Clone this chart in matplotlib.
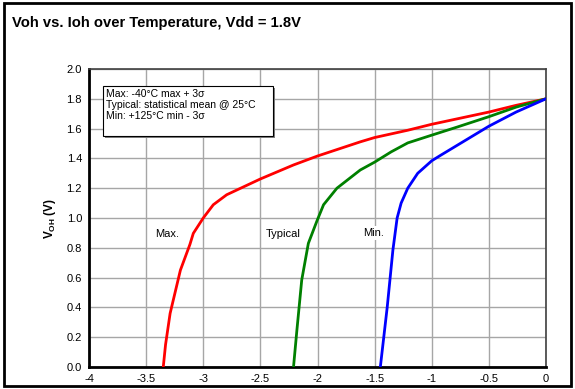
import matplotlib
matplotlib.use("Agg")
import matplotlib.pyplot as plt
from matplotlib.patches import Rectangle

plt.rcParams['font.family'] = ['Liberation Sans', 'DejaVu Sans']
plt.rcParams['mathtext.fontset'] = 'custom'
plt.rcParams['mathtext.bf'] = 'Liberation Sans:bold'
plt.rcParams['mathtext.rm'] = 'Liberation Sans'

W, H = 575, 389

# Ioh (mA) / Voh (V) curves read from the characterization data
ioh_max = [-3.35, -3.33, -3.29, -3.20, -3.117, -3.087, -3.00, -2.912, -2.795, -2.50, -2.21,
           -2.00, -1.626, -1.50, -1.21, -1.00, -0.50, -0.262, 0.0]
voh_max = [0.00, 0.15, 0.36, 0.65, 0.822, 0.897, 1.00, 1.089, 1.156, 1.262, 1.356,
           1.416, 1.511, 1.54, 1.589, 1.629, 1.711, 1.756, 1.80]

ioh_typ = [-2.21, -2.18, -2.138, -2.08, -2.006, -1.947, -1.83, -1.626, -1.50, -1.355,
           -1.21, -1.00, -0.775, -0.50, -0.262, 0.0]
voh_typ = [0.00, 0.25, 0.584, 0.83, 0.978, 1.089, 1.20, 1.322, 1.375, 1.444,
           1.504, 1.556, 1.611, 1.68, 1.744, 1.80]

ioh_min = [-1.45, -1.42, -1.39, -1.34, -1.303, -1.268, -1.21, -1.123, -1.00, -0.92,
           -0.775, -0.63, -0.50, -0.262, 0.0]
voh_min = [0.00, 0.20, 0.40, 0.785, 1.00, 1.10, 1.20, 1.30, 1.384, 1.422,
           1.489, 1.556, 1.616, 1.711, 1.80]

x_ticks = [-4, -3.5, -3, -2.5, -2, -1.5, -1, -0.5, 0]
x_tick_labels = ["-4", "-3.5", "-3", "-2.5", "-2", "-1.5", "-1", "-0.5", "0"]
y_ticks = [0.0, 0.2, 0.4, 0.6, 0.8, 1.0, 1.2, 1.4, 1.6, 1.8, 2.0]

curve_labels = ["Max.", "Typical", "Min."]
label_x = [-3.32, -2.30, -1.51]
label_y = [0.89, 0.89, 0.90]

note_lines = ["Max: -40°C max + 3σ",
              "Typical: statistical mean @ 25°C",
              "Min: +125°C min - 3σ"]

fig = plt.figure(figsize=(W / 100, H / 100), dpi=100)
ax = fig.add_axes([89 / W, 1 - 367 / H, (546 - 89) / W, (367 - 69) / H])


def px_rect(x0, y0, x1, y1, **kw):
    # rectangle given in figure pixel coords (y measured from the top)
    return Rectangle((x0 / W, 1 - y1 / H), (x1 - x0) / W, (y1 - y0) / H,
                     transform=fig.transFigure, **kw)


# outer frame around the whole figure
fig.patches.append(px_rect(4, 3, 571, 386, fill=False, edgecolor="black", lw=2))

fig.text(12 / W, 1 - 23 / H, "Voh vs. Ioh over Temperature, Vdd = 1.8V",
         fontsize=10.6, fontweight="bold", va="center", ha="left")

ax.plot(ioh_max, voh_max, color="#ff0000", lw=2, zorder=3)
ax.plot(ioh_typ, voh_typ, color="#008000", lw=2, zorder=3)
ax.plot(ioh_min, voh_min, color="#0000ff", lw=2, zorder=3)

ax.set_xlim(-4, 0)
ax.set_ylim(0, 2.0)
ax.set_xticks(x_ticks)
ax.set_xticklabels(x_tick_labels)
ax.set_yticks(y_ticks)
ax.set_yticklabels([f"{v:.1f}" for v in y_ticks])
ax.tick_params(length=0, labelsize=8, pad=5)
ax.grid(True, color="#a6a6a6", lw=1)
ax.set_axisbelow(True)

for side in ("left", "bottom"):
    ax.spines[side].set_linewidth(2)
    ax.spines[side].set_color("black")
for side in ("top", "right"):
    ax.spines[side].set_linewidth(1.2)
    ax.spines[side].set_color("#404040")

ax.set_ylabel(r"$\mathbf{V_{OH}}$ (V)", fontsize=8.5, fontweight="bold", labelpad=6)

for txt, x, y in zip(curve_labels, label_x, label_y):
    ax.text(x, y, txt, fontsize=8, ha="center", va="center", zorder=4,
            bbox=dict(facecolor="white", edgecolor="none", pad=1.5))

# note box with a small drop shadow
fig.patches.append(px_rect(105, 88, 275, 138, facecolor="#808080", edgecolor="none", zorder=4))
fig.patches.append(px_rect(103, 86, 273, 136, facecolor="white", edgecolor="black", lw=0.8, zorder=5))
fig.text(106 / W, 1 - 89 / H, "\n".join(note_lines), fontsize=7.5, ha="left", va="top",
         linespacing=1.15, zorder=6)

fig.savefig("out.png", dpi=100)
